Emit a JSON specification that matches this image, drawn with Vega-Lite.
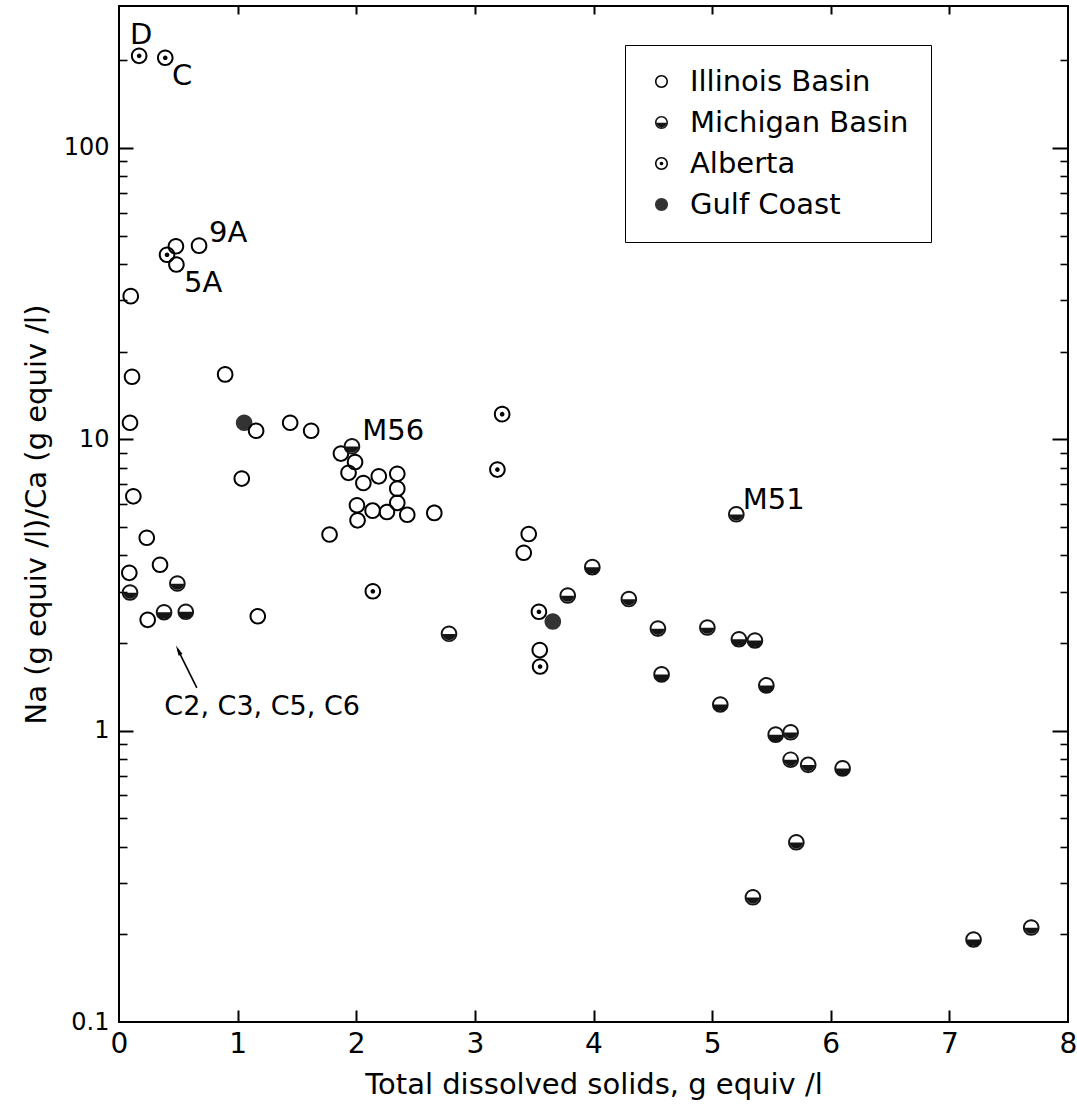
{
  "$schema": "https://vega.github.io/schema/vega-lite/v6.json",
  "width": 949,
  "height": 1016,
  "autosize": {"type": "none"},
  "padding": {"left": 119, "top": 6, "right": 9, "bottom": 86},
  "background": "white",
  "config": {
    "view": {"stroke": "black", "strokeWidth": 2},
    "font": "DejaVu Sans",
    "axis": {"labelColor": "black", "titleColor": "black", "tickColor": "black", "labelFont": "DejaVu Sans", "titleFont": "DejaVu Sans", "titleFontWeight": "normal", "grid": false, "domain": false, "labelFlush": false, "labelOverlap": false}
  },
  "resolve": {"axis": {"x": "independent", "y": "independent"}},
  "layer": [
    {
      "data": {"values": [
        {"group": "Gulf Coast", "tds": 1.055, "ratio": 11.4},
        {"group": "Gulf Coast", "tds": 3.657, "ratio": 2.37},
        {"group": "Illinois Basin", "tds": 0.48, "ratio": 46.0},
        {"group": "Illinois Basin", "tds": 0.675, "ratio": 46.2},
        {"group": "Illinois Basin", "tds": 0.484, "ratio": 39.8},
        {"group": "Illinois Basin", "tds": 0.099, "ratio": 31.0},
        {"group": "Illinois Basin", "tds": 0.11, "ratio": 16.4},
        {"group": "Illinois Basin", "tds": 0.093, "ratio": 11.4},
        {"group": "Illinois Basin", "tds": 0.121, "ratio": 6.37},
        {"group": "Illinois Basin", "tds": 0.234, "ratio": 4.59},
        {"group": "Illinois Basin", "tds": 0.346, "ratio": 3.71},
        {"group": "Illinois Basin", "tds": 0.087, "ratio": 3.48},
        {"group": "Illinois Basin", "tds": 0.242, "ratio": 2.40},
        {"group": "Illinois Basin", "tds": 0.895, "ratio": 16.7},
        {"group": "Illinois Basin", "tds": 1.035, "ratio": 7.33},
        {"group": "Illinois Basin", "tds": 1.156, "ratio": 10.7},
        {"group": "Illinois Basin", "tds": 1.17, "ratio": 2.47},
        {"group": "Illinois Basin", "tds": 1.443, "ratio": 11.4},
        {"group": "Illinois Basin", "tds": 1.62, "ratio": 10.7},
        {"group": "Illinois Basin", "tds": 1.871, "ratio": 8.93},
        {"group": "Illinois Basin", "tds": 1.99, "ratio": 8.36},
        {"group": "Illinois Basin", "tds": 1.935, "ratio": 7.67},
        {"group": "Illinois Basin", "tds": 2.06, "ratio": 7.08},
        {"group": "Illinois Basin", "tds": 2.19, "ratio": 7.46},
        {"group": "Illinois Basin", "tds": 2.346, "ratio": 7.62},
        {"group": "Illinois Basin", "tds": 2.346, "ratio": 6.77},
        {"group": "Illinois Basin", "tds": 2.346, "ratio": 6.05},
        {"group": "Illinois Basin", "tds": 2.006, "ratio": 5.94},
        {"group": "Illinois Basin", "tds": 2.138, "ratio": 5.69},
        {"group": "Illinois Basin", "tds": 2.259, "ratio": 5.63},
        {"group": "Illinois Basin", "tds": 2.43, "ratio": 5.51},
        {"group": "Illinois Basin", "tds": 2.011, "ratio": 5.27},
        {"group": "Illinois Basin", "tds": 2.658, "ratio": 5.59},
        {"group": "Illinois Basin", "tds": 1.775, "ratio": 4.71},
        {"group": "Illinois Basin", "tds": 3.454, "ratio": 4.73},
        {"group": "Illinois Basin", "tds": 3.412, "ratio": 4.08},
        {"group": "Illinois Basin", "tds": 3.547, "ratio": 1.89},
        {"group": "Alberta", "tds": 0.17, "ratio": 207},
        {"group": "Alberta", "tds": 0.39, "ratio": 204},
        {"group": "Alberta", "tds": 0.405, "ratio": 43},
        {"group": "Alberta", "tds": 3.23, "ratio": 12.2},
        {"group": "Alberta", "tds": 3.19, "ratio": 7.87},
        {"group": "Alberta", "tds": 2.14, "ratio": 3.01},
        {"group": "Alberta", "tds": 3.54, "ratio": 2.56},
        {"group": "Alberta", "tds": 3.55, "ratio": 1.66},
        {"group": "Michigan Basin", "tds": 0.093, "ratio": 2.98},
        {"group": "Michigan Basin", "tds": 0.492, "ratio": 3.20},
        {"group": "Michigan Basin", "tds": 0.38, "ratio": 2.55},
        {"group": "Michigan Basin", "tds": 0.563, "ratio": 2.56},
        {"group": "Michigan Basin", "tds": 2.782, "ratio": 2.15},
        {"group": "Michigan Basin", "tds": 1.964, "ratio": 9.46},
        {"group": "Michigan Basin", "tds": 3.99, "ratio": 3.64},
        {"group": "Michigan Basin", "tds": 3.783, "ratio": 2.91},
        {"group": "Michigan Basin", "tds": 4.298, "ratio": 2.83},
        {"group": "Michigan Basin", "tds": 4.543, "ratio": 2.24},
        {"group": "Michigan Basin", "tds": 4.574, "ratio": 1.56},
        {"group": "Michigan Basin", "tds": 5.204, "ratio": 5.53},
        {"group": "Michigan Basin", "tds": 4.96, "ratio": 2.26},
        {"group": "Michigan Basin", "tds": 5.226, "ratio": 2.06},
        {"group": "Michigan Basin", "tds": 5.361, "ratio": 2.04},
        {"group": "Michigan Basin", "tds": 5.457, "ratio": 1.43},
        {"group": "Michigan Basin", "tds": 5.069, "ratio": 1.23},
        {"group": "Michigan Basin", "tds": 5.536, "ratio": 0.969},
        {"group": "Michigan Basin", "tds": 5.662, "ratio": 0.987},
        {"group": "Michigan Basin", "tds": 5.662, "ratio": 0.795},
        {"group": "Michigan Basin", "tds": 5.81, "ratio": 0.763},
        {"group": "Michigan Basin", "tds": 6.10, "ratio": 0.742},
        {"group": "Michigan Basin", "tds": 5.71, "ratio": 0.414},
        {"group": "Michigan Basin", "tds": 5.344, "ratio": 0.268},
        {"group": "Michigan Basin", "tds": 7.204, "ratio": 0.192},
        {"group": "Michigan Basin", "tds": 7.69, "ratio": 0.211}
      ]},
      "mark": {"type": "point", "filled": true, "strokeWidth": 0, "opacity": 1, "size": 275},
      "encoding": {
        "x": {"field": "tds", "type": "quantitative", "scale": {"domain": [0, 8], "nice": false, "zero": false},
          "axis": {"orient": "bottom", "values": [0, 1, 2, 3, 4, 5, 6, 7, 8], "format": "d", "ticks": false, "labelFontSize": 28, "labelPadding": 8, "title": "Total dissolved solids, g equiv /l", "titleFontSize": 29, "titlePadding": 12}},
        "y": {"field": "ratio", "type": "quantitative", "scale": {"type": "log", "domain": [0.1, 307], "nice": false},
          "axis": {"orient": "left", "values": [0.1, 1, 10, 100], "ticks": false, "labelFontSize": 24, "labelPadding": 10, "labelExpr": "datum.value < 1 ? '0.1' : format(datum.value, 'd')", "title": "Na (g equiv /l)/Ca (g equiv /l)", "titleFontSize": 29, "titlePadding": 12}},
        "shape": {"field": "group", "type": "nominal",
          "scale": {"domain": ["Illinois Basin", "Michigan Basin", "Alberta", "Gulf Coast"],
            "range": [
              "M1,0A1,1,0,1,1,-1,0A1,1,0,1,1,1,0ZM0.76,0A0.76,0.76,0,1,0,-0.76,0A0.76,0.76,0,1,0,0.76,0Z",
              "M1,0A1,1,0,1,1,-1,0A1,1,0,1,1,1,0ZM0.76,0A0.76,0.76,0,1,0,-0.76,0A0.76,0.76,0,1,0,0.76,0ZM-0.76,0.02A0.76,0.76,0,0,0,0.76,0.02Z",
              "M1,0A1,1,0,1,1,-1,0A1,1,0,1,1,1,0ZM0.76,0A0.76,0.76,0,1,0,-0.76,0A0.76,0.76,0,1,0,0.76,0ZM0.28,0A0.28,0.28,0,1,1,-0.28,0A0.28,0.28,0,1,1,0.28,0Z",
              "M1,0A1,1,0,1,1,-1,0A1,1,0,1,1,1,0Z"
            ]},
          "legend": {"title": null, "orient": "none", "legendX": 506, "legendY": 39, "padding": 22, "labelFontSize": 29, "labelFont": "DejaVu Sans", "labelColor": "black", "symbolSize": 169, "rowPadding": 11, "labelOffset": 14, "strokeColor": "black", "fillColor": "white", "symbolStrokeWidth": 0, "labelLimit": 400,
            "encode": {"legend": {"update": {"strokeWidth": {"value": 2}}}}}},
        "fill": {"field": "group", "type": "nominal",
          "scale": {"domain": ["Illinois Basin", "Michigan Basin", "Alberta", "Gulf Coast"], "range": ["black", "#151515", "black", "#333333"]},
          "legend": {"title": null, "orient": "none", "legendX": 506, "legendY": 39, "padding": 22, "labelFontSize": 29, "labelFont": "DejaVu Sans", "labelColor": "black", "symbolSize": 169, "rowPadding": 11, "labelOffset": 14, "strokeColor": "black", "fillColor": "white", "symbolStrokeWidth": 0, "labelLimit": 400,
            "encode": {"legend": {"update": {"strokeWidth": {"value": 2}}}}}}
      }
    },
    {
      "data": {"values": [
        {"label": "D", "tds": 0.186, "ratio": 245},
        {"label": "C", "tds": 0.532, "ratio": 176},
        {"label": "9A", "tds": 0.92, "ratio": 51.2},
        {"label": "5A", "tds": 0.709, "ratio": 34.5},
        {"label": "M56", "tds": 2.312, "ratio": 10.7},
        {"label": "M51", "tds": 5.519, "ratio": 6.21}
      ]},
      "mark": {"type": "text", "fontSize": 29, "font": "DejaVu Sans", "align": "center", "baseline": "middle", "color": "black"},
      "encoding": {
        "x": {"field": "tds", "type": "quantitative", "scale": {"domain": [0, 8], "nice": false, "zero": false},
          "axis": {"orient": "bottom", "values": [1, 2, 3, 4, 5, 6, 7], "labels": false, "title": null, "ticks": true, "tickSize": -12, "tickWidth": 2}},
        "y": {"field": "ratio", "type": "quantitative", "scale": {"type": "log", "domain": [0.1, 307], "nice": false},
          "axis": {"orient": "left", "values": [1, 10, 100], "labels": false, "title": null, "ticks": true, "tickSize": -14, "tickWidth": 2}},
        "text": {"field": "label", "type": "nominal"}
      }
    },
    {
      "data": {"values": [{"tds": 0.656, "ratio": 1.402, "tds2": 0.495, "ratio2": 1.90}]},
      "mark": {"type": "rule", "color": "black", "strokeWidth": 1.6},
      "encoding": {
        "x": {"field": "tds", "type": "quantitative", "scale": {"domain": [0, 8], "nice": false, "zero": false},
          "axis": {"orient": "top", "values": [1, 2, 3, 4, 5, 6, 7], "labels": false, "title": null, "ticks": true, "tickSize": -8, "tickWidth": 2}},
        "y": {"field": "ratio", "type": "quantitative", "scale": {"type": "log", "domain": [0.1, 307], "nice": false},
          "axis": {"orient": "right", "values": [1, 10, 100], "labels": false, "title": null, "ticks": true, "tickSize": -16, "tickWidth": 2}},
        "x2": {"field": "tds2"},
        "y2": {"field": "ratio2"}
      }
    },
    {
      "data": {"values": [{"tds": 0.4996, "ratio": 1.889}]},
      "mark": {"type": "point", "filled": true, "color": "black", "opacity": 1, "strokeWidth": 0, "size": 110, "angle": 334, "shape": "M0,-1L0.42,1L-0.42,1Z"},
      "encoding": {
        "x": {"field": "tds", "type": "quantitative", "scale": {"domain": [0, 8], "nice": false, "zero": false}, "axis": null},
        "y": {"field": "ratio", "type": "quantitative", "scale": {"type": "log", "domain": [0.1, 307], "nice": false},
          "axis": {"orient": "left", "values": [0.2, 0.3, 0.4, 0.5, 0.6, 0.7, 0.8, 0.9, 2, 3, 4, 5, 6, 7, 8, 9, 20, 30, 40, 50, 60, 70, 80, 90, 200], "labels": false, "title": null, "ticks": true, "tickSize": -8, "tickWidth": 1.6}}
      }
    },
    {
      "data": {"values": [{"label": "C2, C3, C5, C6", "tds": 1.207, "ratio": 1.209}]},
      "mark": {"type": "text", "fontSize": 27, "font": "DejaVu Sans", "align": "center", "baseline": "middle", "color": "black"},
      "encoding": {
        "x": {"field": "tds", "type": "quantitative", "scale": {"domain": [0, 8], "nice": false, "zero": false}, "axis": null},
        "y": {"field": "ratio", "type": "quantitative", "scale": {"type": "log", "domain": [0.1, 307], "nice": false},
          "axis": {"orient": "right", "values": [0.2, 0.3, 0.4, 0.5, 0.6, 0.7, 0.8, 0.9, 2, 3, 4, 5, 6, 7, 8, 9, 20, 30, 40, 50, 60, 70, 80, 90, 200], "labels": false, "title": null, "ticks": true, "tickSize": -8, "tickWidth": 1.6}},
        "text": {"field": "label", "type": "nominal"}
      }
    }
  ]
}
